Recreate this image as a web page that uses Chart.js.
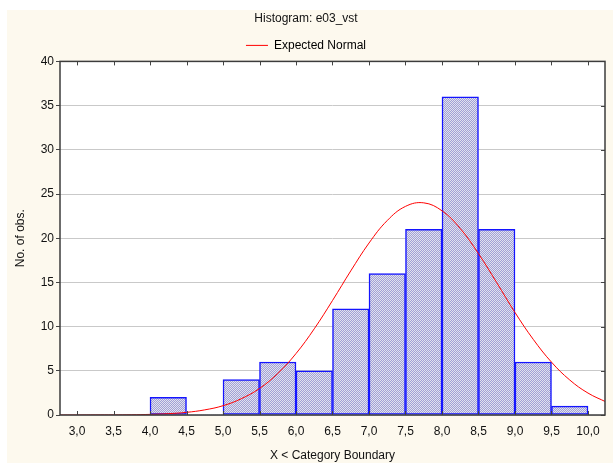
<!DOCTYPE html>
<html>
<head>
<meta charset="utf-8">
<script src="https://cdn.jsdelivr.net/npm/chart.js@4.4.1/dist/chart.umd.min.js"></script>
<style>
    html, body { margin: 0; padding: 0; background: #ffffff; }
    #wrap { position: absolute; left: 7px; top: 10px; width: 606px; height: 453px; background: #fdf9ee; }
</style>
</head>
<body>
<div id="wrap"><canvas id="histChart" width="606" height="453"></canvas></div>
<script>
// bins (lower boundary) and counts
const BIN_WIDTH = 0.5;
const BIN_LOWER = [3.0, 3.5, 4.0, 4.5, 5.0, 5.5, 6.0, 6.5, 7.0, 7.5, 8.0, 8.5, 9.0, 9.5];
const COUNTS = [0, 0, 2, 0, 4, 6, 5, 12, 16, 21, 36, 21, 6, 1];

// expected normal curve
const CURVE_X = [2.75, 3.0, 3.25, 3.5, 3.75, 4.0, 4.25, 4.5, 4.75, 5.0, 5.25, 5.5, 5.75, 6.0, 6.25, 6.5,
    6.75, 7.0, 7.25, 7.5, 7.75, 8.0, 8.25, 8.5, 8.75, 9.0, 9.25, 9.5, 9.75, 10.0, 10.25];
const CURVE_Y = [0.0, 0.0, 0.01, 0.01, 0.03, 0.07, 0.15, 0.3, 0.58, 1.05, 1.84, 3.0, 4.7, 6.95, 9.75, 12.95,
    16.3, 19.45, 22.0, 23.6, 24.0, 23.1, 21.1, 18.25, 14.97, 11.6, 8.56, 5.98, 3.96, 2.48, 1.47];

const X_TICKS = [3.0, 3.5, 4.0, 4.5, 5.0, 5.5, 6.0, 6.5, 7.0, 7.5, 8.0, 8.5, 9.0, 9.5, 10.0];
const Y_TICKS = [0, 5, 10, 15, 20, 25, 30, 35, 40];

const FONT = "'Liberation Sans', Arial, sans-serif";

function makePattern() {
    const c = document.createElement("canvas");
    c.width = 2;
    c.height = 2;
    const g = c.getContext("2d");
    g.fillStyle = "#e2e2ee";
    g.fillRect(0, 0, 2, 2);
    g.fillStyle = "#a0a0d6";
    g.fillRect(0, 0, 1, 1);
    g.fillRect(1, 1, 1, 1);
    return document.getElementById("histChart").getContext("2d").createPattern(c, "repeat");
}

// frame + inward ticks on bottom, top and right
const framePlugin = {
    id: "frame",
    afterDraw(chart) {
        const ctx = chart.ctx;
        const a = chart.chartArea;
        const xs = chart.scales.x;
        const ys = chart.scales.y;
        ctx.save();
        ctx.strokeStyle = "#444";
        ctx.lineWidth = 1;
        ctx.beginPath();
        X_TICKS.forEach(v => {
            const px = Math.round(xs.getPixelForValue(v)) + 0.5;
            ctx.moveTo(px, a.bottom);
            ctx.lineTo(px, a.bottom - 4);
            ctx.moveTo(px, a.top);
            ctx.lineTo(px, a.top + 4);
        });
        Y_TICKS.forEach(v => {
            const py = Math.round(ys.getPixelForValue(v)) + 0.5;
            ctx.moveTo(a.right, py);
            ctx.lineTo(a.right - 4, py);
        });
        ctx.stroke();
        ctx.lineWidth = 1.5;
        ctx.strokeStyle = "#3c3c3c";
        ctx.strokeRect(a.left, a.top, a.right - a.left, a.bottom - a.top);
        ctx.restore();
    }
};

const bgPlugin = {
    id: "plotBg",
    beforeDraw(chart) {
        const a = chart.chartArea;
        chart.ctx.save();
        chart.ctx.fillStyle = "#ffffff";
        chart.ctx.fillRect(a.left, a.top, a.right - a.left, a.bottom - a.top);
        chart.ctx.restore();
    }
};

const ctx = document.getElementById("histChart").getContext("2d");
const histChart = new Chart(ctx, {
    type: "bar",
    data: {
        datasets: [{
            label: "e03_vst",
            data: BIN_LOWER.map((lo, i) => ({ x: lo + BIN_WIDTH / 2, y: COUNTS[i] })),
            backgroundColor: makePattern(),
            borderColor: "#1414ff",
            borderWidth: c => (c.raw && c.raw.y > 0 ? 1.5 : 0),
            borderSkipped: false,
            barPercentage: 1,
            categoryPercentage: 1,
            grouped: false,
            order: 2
        }, {
            type: "line",
            label: "Expected Normal",
            data: CURVE_X.map((x, i) => ({ x: x, y: CURVE_Y[i] })),
            borderColor: "#ff0000",
            borderWidth: 1,
            pointRadius: 0,
            tension: 0.4,
            fill: false,
            order: 1
        }]
    },
    options: {
        responsive: false,
        animation: false,
        events: [],
        layout: { padding: { left: 0, right: 8, top: 0, bottom: 0 } },
        plugins: {
            title: {
                display: true,
                text: "Histogram: e03_vst",
                color: "#111",
                font: { family: FONT, size: 12, weight: "normal" },
                padding: { top: 1, bottom: 9 }
            },
            legend: {
                display: true,
                labels: {
                    color: "#111",
                    font: { family: FONT, size: 12 },
                    padding: 5,
                    generateLabels: () => [{
                        text: "Expected Normal",
                        strokeStyle: "#ff0000",
                        fillStyle: "#ff0000",
                        lineWidth: 1,
                        pointStyle: "line",
                        datasetIndex: 1
                    }],
                    usePointStyle: true,
                    pointStyleWidth: 22,
                    boxHeight: 8
                }
            },
            tooltip: { enabled: false }
        },
        scales: {
            x: {
                type: "linear",
                offset: false,
                min: 2.767,
                max: 10.233,
                afterBuildTicks: s => { s.ticks = X_TICKS.map(v => ({ value: v })); },
                afterFit: s => { s.height = 48; },
                grid: { display: false, drawTicks: false, offset: false },
                border: { display: false },
                ticks: {
                    color: "#111",
                    padding: 9,
                    autoSkip: false,
                    maxRotation: 0,
                    font: { family: FONT, size: 12 },
                    callback: v => v.toFixed(1).replace(".", ",")
                },
                title: {
                    display: true,
                    text: "X < Category Boundary",
                    color: "#111",
                    font: { family: FONT, size: 12 },
                    padding: { top: 5, bottom: 0 }
                }
            },
            y: {
                min: 0,
                max: 40,
                afterBuildTicks: s => { s.ticks = Y_TICKS.map(v => ({ value: v })); },
                afterFit: s => { s.width = 53; },
                grid: {
                    color: "#c9c9c9",
                    lineWidth: 1,
                    tickColor: "#444",
                    tickLength: 4
                },
                border: { display: false },
                ticks: {
                    color: "#111",
                    padding: 2,
                    font: { family: FONT, size: 12 }
                },
                title: {
                    display: true,
                    text: "No. of obs.",
                    color: "#111",
                    font: { family: FONT, size: 12 },
                    padding: { top: 6, bottom: 2 }
                }
            }
        }
    },
    plugins: [bgPlugin, framePlugin]
});
</script>
</body>
</html>
